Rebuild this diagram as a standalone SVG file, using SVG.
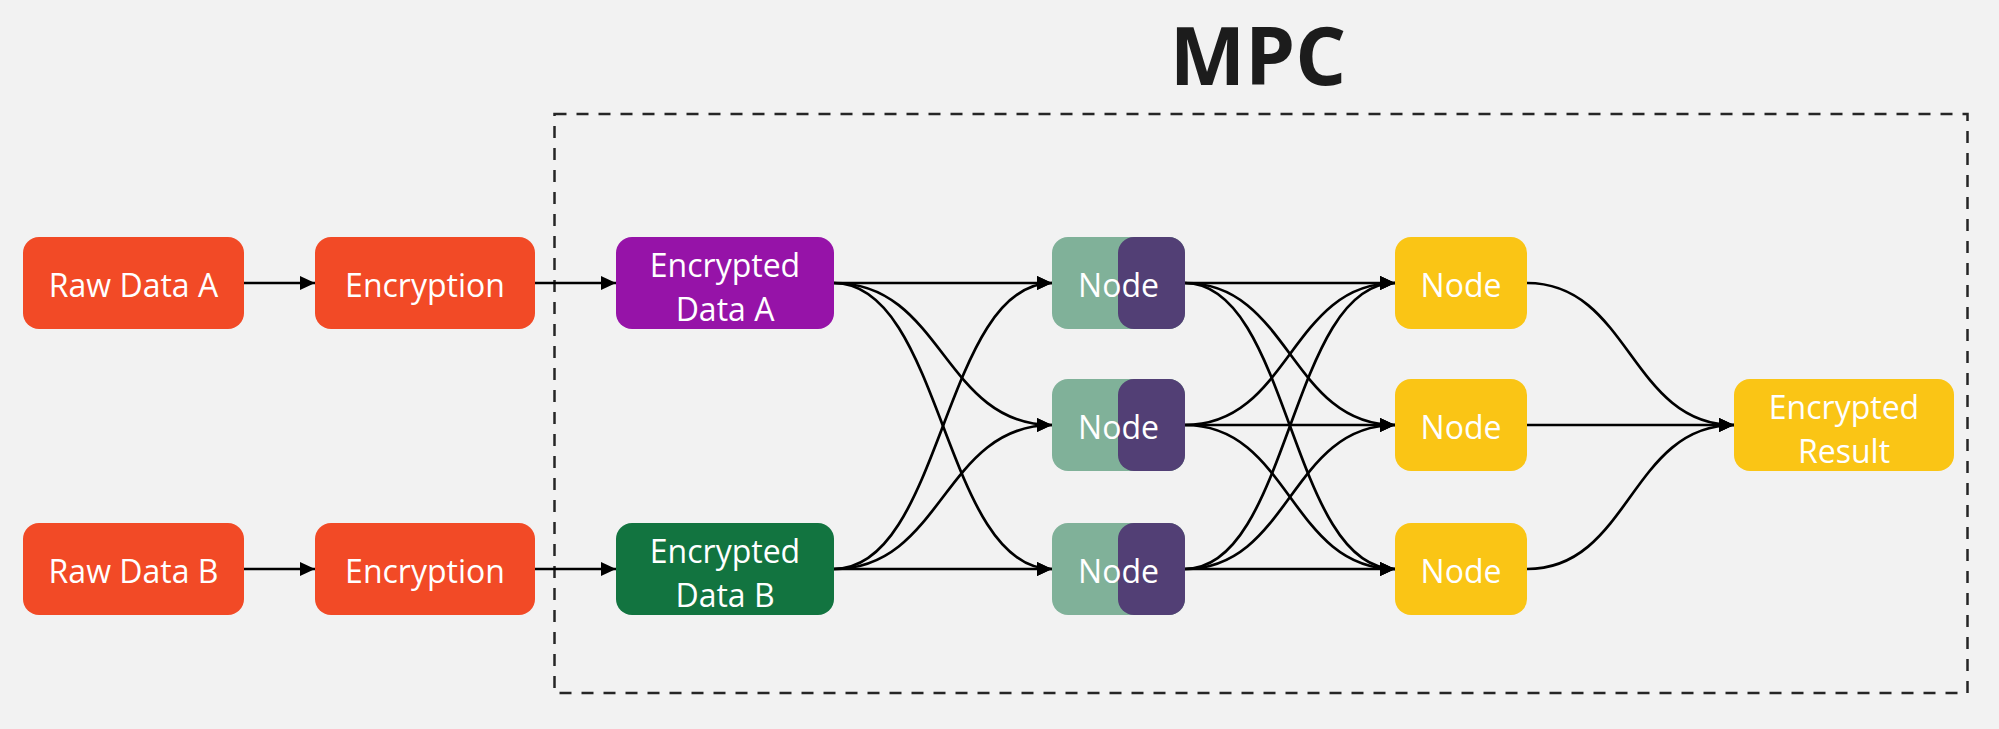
<svg xmlns="http://www.w3.org/2000/svg" width="1999" height="729" viewBox="0 0 1999 729">
<defs>
<style>
.lbl{font-family:"Open Sans","Noto Sans","Liberation Sans",sans-serif;font-size:32px;fill:#ffffff;text-anchor:middle}
.title{font-family:"Open Sans","Noto Sans","Liberation Sans",sans-serif;font-size:80px;font-weight:bold;fill:#1c1c1c;text-anchor:middle}
.edge{fill:none;stroke:#000;stroke-width:2.7;marker-end:url(#arr)}
.org{fill:#f24a26}
.yel{fill:#fac515}
.sage{fill:#80b199}
.dpur{fill:#523f75}
</style>
<marker id="arr" markerUnits="userSpaceOnUse" markerWidth="16" markerHeight="15" refX="15" refY="7" orient="auto">
<path d="M0,0 L15,7 L0,14 z" fill="#000"/>
</marker>
</defs>
<rect x="0" y="0" width="1999" height="729" fill="#f2f2f2"/>
<text class="title" x="1258" y="85">MPC</text>
<rect id="mpc-boundary" x="554.5" y="114" width="1413" height="579" fill="none" stroke="#262626" stroke-width="2.5" stroke-dasharray="12 10"/>

<g id="connectors">
<path class="edge" d="M244,283 L315,283"/>
<path class="edge" d="M244,569 L315,569"/>
<path class="edge" d="M535,283 L616,283"/>
<path class="edge" d="M535,569 L616,569"/>

<path class="edge" d="M834,283 L1052,283"/>
<path class="edge" d="M834,283 C943,283 943,425 1052,425"/>
<path class="edge" d="M834,283 C943,283 943,569 1052,569"/>
<path class="edge" d="M834,569 C943,569 943,283 1052,283"/>
<path class="edge" d="M834,569 C943,569 943,425 1052,425"/>
<path class="edge" d="M834,569 L1052,569"/>

<path class="edge" d="M1185,283 L1395,283"/>
<path class="edge" d="M1185,283 C1290,283 1290,425 1395,425"/>
<path class="edge" d="M1185,283 C1290,283 1290,569 1395,569"/>
<path class="edge" d="M1185,425 C1290,425 1290,283 1395,283"/>
<path class="edge" d="M1185,425 L1395,425"/>
<path class="edge" d="M1185,425 C1290,425 1290,569 1395,569"/>
<path class="edge" d="M1185,569 C1290,569 1290,283 1395,283"/>
<path class="edge" d="M1185,569 C1290,569 1290,425 1395,425"/>
<path class="edge" d="M1185,569 L1395,569"/>

<path class="edge" d="M1527,283 C1630,283 1630,425 1734,425"/>
<path class="edge" d="M1527,425 L1734,425"/>
<path class="edge" d="M1527,569 C1630,569 1630,425 1734,425"/>
</g>

<g id="raw-data-a"><rect class="org" x="23" y="237" width="221" height="92" rx="16"/><text class="lbl" x="133.5" y="297">Raw Data A</text></g>
<g id="encryption-a"><rect class="org" x="315" y="237" width="220" height="92" rx="16"/><text class="lbl" x="425" y="297">Encryption</text></g>
<g id="raw-data-b"><rect class="org" x="23" y="523" width="221" height="92" rx="16"/><text class="lbl" x="133.5" y="583">Raw Data B</text></g>
<g id="encryption-b"><rect class="org" x="315" y="523" width="220" height="92" rx="16"/><text class="lbl" x="425" y="583">Encryption</text></g>

<g id="encrypted-data-a"><rect x="616" y="237" width="218" height="92" rx="16" fill="#9613a8"/><text class="lbl" x="725" y="277">Encrypted</text><text class="lbl" x="725" y="321">Data A</text></g>
<g id="encrypted-data-b"><rect x="616" y="523" width="218" height="92" rx="16" fill="#127440"/><text class="lbl" x="725" y="563">Encrypted</text><text class="lbl" x="725" y="607">Data B</text></g>

<g id="mpc-node-1"><rect class="sage" x="1052" y="237" width="133" height="92" rx="16"/><rect class="dpur" x="1118" y="237" width="67" height="92" rx="16"/><text class="lbl" x="1118.5" y="297">Node</text></g>
<g id="mpc-node-2"><rect class="sage" x="1052" y="379" width="133" height="92" rx="16"/><rect class="dpur" x="1118" y="379" width="67" height="92" rx="16"/><text class="lbl" x="1118.5" y="439">Node</text></g>
<g id="mpc-node-3"><rect class="sage" x="1052" y="523" width="133" height="92" rx="16"/><rect class="dpur" x="1118" y="523" width="67" height="92" rx="16"/><text class="lbl" x="1118.5" y="583">Node</text></g>

<g id="result-node-1"><rect class="yel" x="1395" y="237" width="132" height="92" rx="16"/><text class="lbl" x="1461" y="297">Node</text></g>
<g id="result-node-2"><rect class="yel" x="1395" y="379" width="132" height="92" rx="16"/><text class="lbl" x="1461" y="439">Node</text></g>
<g id="result-node-3"><rect class="yel" x="1395" y="523" width="132" height="92" rx="16"/><text class="lbl" x="1461" y="583">Node</text></g>

<g id="encrypted-result"><rect class="yel" x="1734" y="379" width="220" height="92" rx="16"/><text class="lbl" x="1844" y="419">Encrypted</text><text class="lbl" x="1844" y="463">Result</text></g>
</svg>
